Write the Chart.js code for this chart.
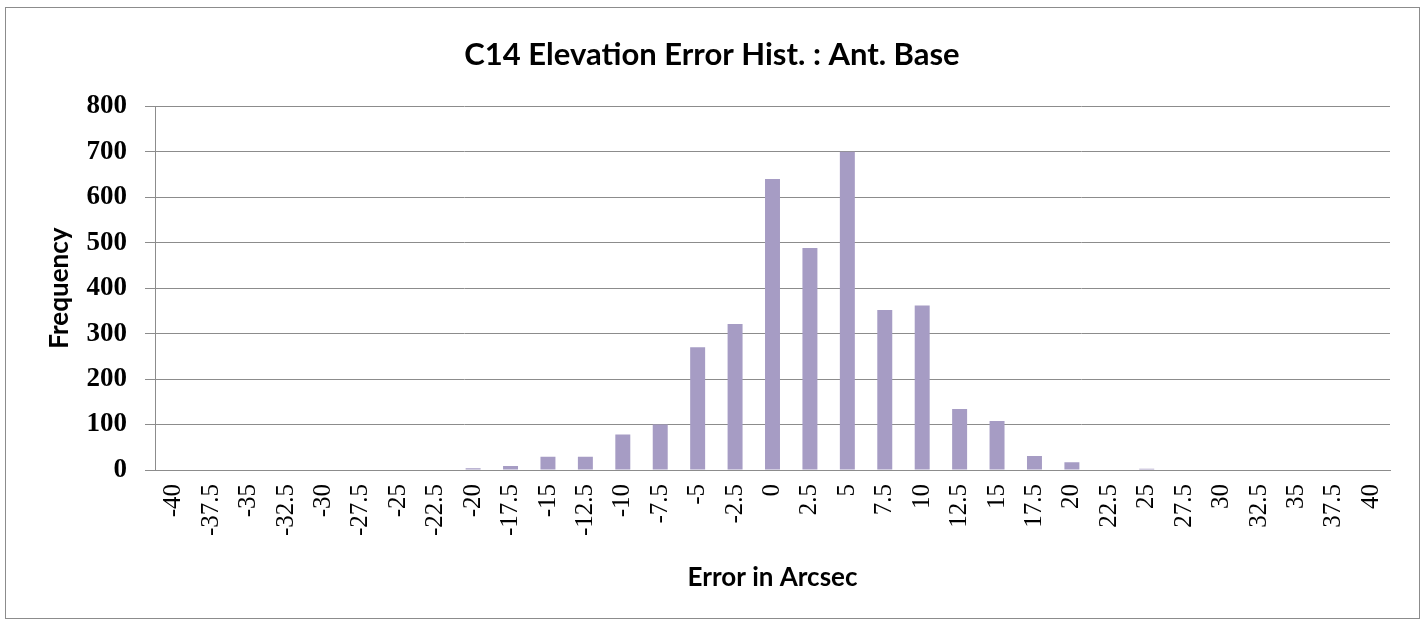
<!DOCTYPE html>
<html lang="en">
<head>
    <meta charset="UTF-8">
    <title>C14 Elevation Error Hist.</title>
    <script src="https://cdn.jsdelivr.net/npm/chart.js"></script>
    <style>
        body { margin: 0; background: #fff; }
        #wrap { position: relative; width: 1427px; height: 625px; }
        #frame { position: absolute; left: 5px; top: 7px; width: 1413px; height: 610px; border: 1px solid #8c8c8c; pointer-events: none; }
    </style>
</head>
<body>
    <div id="wrap">
        <canvas id="histChart" width="1427" height="625"></canvas>
        <div id="frame"></div>
    </div>

    <script>
        // bin labels along the x axis (arcsec)
        const binLabels = ['-40', '-37.5', '-35', '-32.5', '-30', '-27.5', '-25', '-22.5',
            '-20', '-17.5', '-15', '-12.5', '-10', '-7.5', '-5', '-2.5', '0',
            '2.5', '5', '7.5', '10', '12.5', '15', '17.5', '20', '22.5', '25',
            '27.5', '30', '32.5', '35', '37.5', '40'];

        // counts
        const frequency = [0, 0, 0, 0, 0, 0, 0, 0,
            4, 9, 29, 29, 78, 100, 270, 321, 640,
            488, 700, 352, 362, 134, 108, 31, 17, 0, 3,
            0, 0, 0, 0, 0, 0];

        const yTicks = [0, 100, 200, 300, 400, 500, 600, 700, 800];

        const gridColor = '#8c8c8c';

        new Chart(document.getElementById('histChart'), {
            type: 'bar',
            data: {
                labels: binLabels,
                datasets: [{
                    data: frequency,
                    backgroundColor: '#a69cc4',
                    barPercentage: 0.4,
                    categoryPercentage: 1.0
                }]
            },
            options: {
                responsive: false,
                animation: false,
                layout: { padding: { left: 34, right: 37, top: 0, bottom: 0 } },
                plugins: {
                    legend: { display: false },
                    tooltip: { enabled: false },
                    title: {
                        display: true,
                        text: 'C14 Elevation Error Hist. : Ant. Base',
                        color: '#000',
                        font: { family: 'Lato', size: 31, weight: 'bold' },
                        padding: { top: 36, bottom: 33 }
                    }
                },
                scales: {
                    x: {
                        grid: { display: false, drawTicks: false },
                        border: { display: true, color: gridColor },
                        ticks: {
                            color: '#000',
                            font: { family: 'Liberation Serif', size: 25 },
                            minRotation: 90,
                            maxRotation: 90,
                            autoSkip: false,
                            padding: 14
                        },
                        title: {
                            display: true,
                            text: 'Error in Arcsec',
                            color: '#000',
                            font: { family: 'Lato', size: 26, weight: 'bold' },
                            padding: { top: 0, bottom: 32 }
                        },
                        afterFit: function(scale) { scale.height = 155; }
                    },
                    y: {
                        min: 0,
                        max: 800,
                        afterBuildTicks: function(scale) {
                            scale.ticks = yTicks.map(v => ({ value: v }));
                        },
                        grid: { color: gridColor, tickLength: 10 },
                        border: { display: true, color: gridColor },
                        ticks: {
                            color: '#000',
                            font: { family: 'Liberation Serif', size: 27, weight: 'bold' },
                            padding: 18
                        },
                        title: {
                            display: true,
                            text: 'Frequency',
                            color: '#000',
                            font: { family: 'Lato', size: 26, weight: 'bold' },
                            padding: { top: 10, bottom: 0 }
                        },
                        afterFit: function(scale) { scale.width = 121; }
                    }
                }
            }
        });
    </script>
</body>
</html>
